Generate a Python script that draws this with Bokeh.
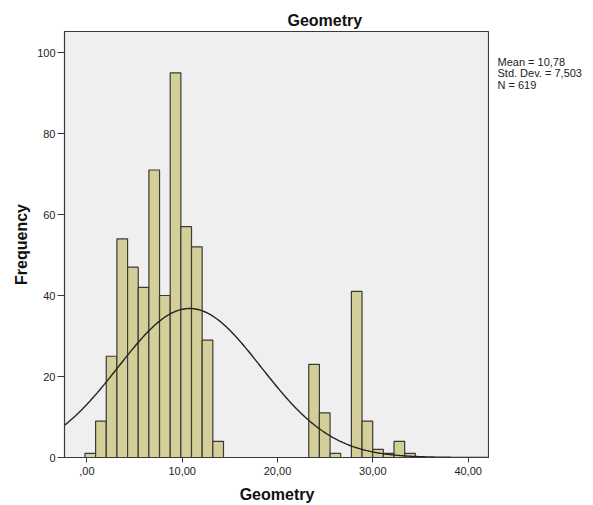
import numpy as np
from bokeh.plotting import figure
from bokeh.layouts import row
from bokeh.models import Range1d, FixedTicker
from bokeh.core.properties import value
from bokeh.embed import file_html
from bokeh.resources import INLINE

# ---- data ----
bin_start = -0.2
bin_width = 1.118
counts = [1, 9, 25, 54, 47, 42, 71, 40, 95, 57, 52, 29, 4,
          0, 0, 0, 0, 0, 0, 0, 0,
          23, 11, 1, 0, 41, 9, 2, 1, 4, 1]
mean = 10.78
std_dev = 7.503
n_total = 619
x_tick_values = [0, 10, 20, 30, 40]
x_tick_labels = [",00", "10,00", "20,00", "30,00", "40,00"]
y_tick_values = [0, 20, 40, 60, 80, 100]
title_text = "Geometry"
x_label = "Geometry"
y_label = "Frequency"

FONT = "Liberation Sans"

counts_arr = np.array(counts, dtype=float)
lefts = bin_start + bin_width * np.arange(len(counts))
rights = lefts + bin_width
mask = counts_arr > 0

x0, x1 = -2.345, 42.24
y0, y1 = 0, 105.2
yr = Range1d(y0, y1)

p = figure(width=489, height=505, output_backend="svg", toolbar_location=None,
           x_range=Range1d(x0, x1), y_range=yr,
           min_border_left=64, min_border_right=0,
           min_border_top=31, min_border_bottom=47)
p.background_fill_color = "#efefef"
p.border_fill_color = "white"
p.outline_line_color = "#3a3a3a"
p.outline_line_width = 1.2
p.xgrid.visible = False
p.ygrid.visible = False

p.title.text = title_text
p.title.text_font = FONT
p.title.text_font_size = "16px"
p.title.text_font_style = "bold"
p.title.text_color = "#111111"
p.title.align = "left"
p.title.offset = 223
p.title.standoff = 6

p.quad(left=lefts[mask], right=rights[mask], top=counts_arr[mask], bottom=0,
       fill_color="#d4cf98", line_color="#3a3a3a", line_width=1.2)

# fitted normal curve
xs = np.linspace(x0, x1, 300)
ys = n_total * bin_width / (std_dev * np.sqrt(2 * np.pi)) * np.exp(-0.5 * ((xs - mean) / std_dev) ** 2)
p.line(xs, ys, line_color="#222222", line_width=1.4)

for ax in (p.xaxis[0], p.yaxis[0]):
    ax.axis_line_color = "#3a3a3a"
    ax.major_tick_line_color = "#3a3a3a"
    ax.minor_tick_line_color = None
    ax.major_tick_in = 0
    ax.major_label_text_font = FONT
    ax.major_label_text_font_size = "11px"
    ax.major_label_text_color = "#222222"
    ax.axis_label_text_font = FONT
    ax.axis_label_text_font_size = "16px"
    ax.axis_label_text_font_style = "bold"
    ax.axis_label_text_color = "#111111"

p.xaxis.ticker = FixedTicker(ticks=x_tick_values)
p.xaxis.major_label_overrides = {v: l for v, l in zip(x_tick_values, x_tick_labels)}
p.xaxis.major_tick_out = 5
p.xaxis.major_label_standoff = 4
p.xaxis.axis_label = x_label
p.xaxis.axis_label_standoff = 8

p.yaxis.ticker = FixedTicker(ticks=y_tick_values)
p.yaxis.major_tick_out = 7
p.yaxis.major_label_standoff = 2
p.yaxis.axis_label = y_label
p.yaxis.axis_label_standoff = 4

# side panel with the statistics text; shares the y scale of the main frame
side = figure(width=104, height=505, output_backend="svg", toolbar_location=None,
              title=None,
              x_range=Range1d(0, 104), y_range=yr,
              x_axis_type=None, y_axis_type=None,
              min_border_left=0, min_border_right=0, min_border_top=31, min_border_bottom=47)
side.outline_line_color = None
side.background_fill_color = "white"
side.border_fill_color = "white"
side.xgrid.visible = False
side.ygrid.visible = False
stat_lines = ["Mean = " + f"{mean:.2f}".replace(".", ","),
              "Std. Dev. = " + f"{std_dev:.3f}".replace(".", ","),
              "N = " + str(n_total)]
px_per_y = 4.06
stat_tops = [(458 - t) / px_per_y for t in (55, 66.7, 78.4)]
side.text(x=[8, 8, 8], y=stat_tops, text=stat_lines,
          text_font=value(FONT), text_font_size="11px", text_color="#222222",
          text_align="left", text_baseline="top")

layout = row(p, side, spacing=0)
open("out.html", "w").write(file_html(layout, INLINE))
